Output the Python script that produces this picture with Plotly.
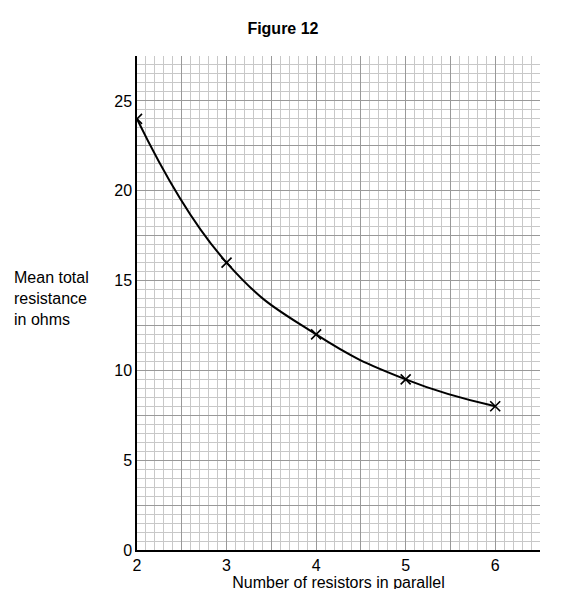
import plotly.graph_objects as go

resistors = [2, 3, 4, 5, 6]
resistance = [24, 16, 12, 9.5, 8]

x_ticks = [2, 2.5, 3, 3.5, 4, 4.5, 5, 5.5, 6, 6.5]
x_labels = ['2', '', '3', '', '4', '', '5', '', '6', '']
y_ticks = [0, 2.5, 5, 7.5, 10, 12.5, 15, 17.5, 20, 22.5, 25, 27.5]
y_labels = ['0', '', '5', '', '10', '', '15', '', '20', '', '25', '']

FONT = dict(family='Arial, Liberation Sans', size=16, color='black')

fig = go.Figure()
fig.add_trace(go.Scatter(x=resistors, y=resistance, mode='lines+markers',
                         line=dict(color='black', width=2, shape='spline', smoothing=1.3),
                         marker=dict(symbol='x-thin', size=10, line=dict(color='black', width=1.6))))

grid = dict(showgrid=True, gridcolor='#999999', gridwidth=1.2, automargin=False,
            showline=True, linecolor='black', linewidth=1.5, zeroline=False,
            ticks='', tickfont=FONT)

fig.update_xaxes(range=[2, 6.5], tickvals=x_ticks, ticktext=x_labels,
                 minor=dict(dtick=0.1, showgrid=True, gridcolor='#c8c8c8', gridwidth=1),
                 title=dict(text='Number of resistors in parallel', standoff=2, font=FONT),
                 **grid)
fig.update_yaxes(range=[0, 27.5], tickvals=y_ticks, ticktext=y_labels,
                 minor=dict(dtick=0.5, showgrid=True, gridcolor='#c8c8c8', gridwidth=1),
                 **grid)

fig.update_layout(
    width=585, height=589, plot_bgcolor='white', paper_bgcolor='white',
    margin=dict(l=129, r=53, t=48, b=47), showlegend=False,
    title=dict(text='<b>Figure 12</b>', x=0.47, y=0.975, xanchor='center',
               font=dict(family='Arial, Liberation Sans', size=16, color='black')),
    annotations=[dict(text='Mean total<br>resistance<br>in ohms', xref='paper', yref='paper',
                      x=-0.31, y=0.51, xanchor='left', yanchor='middle', align='left', showarrow=False,
                      font=FONT)],
)

fig.write_html("out.html")
